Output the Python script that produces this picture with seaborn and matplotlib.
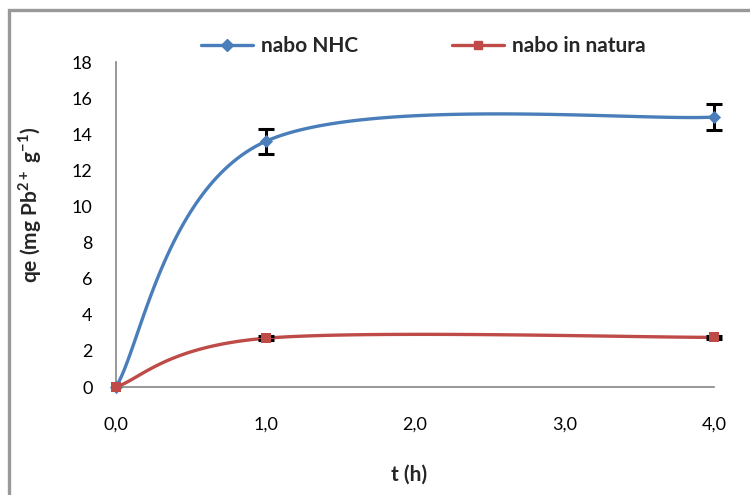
import numpy as np
import pandas as pd
import matplotlib
matplotlib.use("Agg")
import matplotlib.pyplot as plt
import seaborn as sns
from matplotlib.patches import Rectangle
from matplotlib.lines import Line2D

# ---- data ----
t_hours = [0.0, 1.0, 4.0]
qe_nhc = [0.0, 13.6, 14.95]
err_nhc = [0.0, 0.68, 0.72]
qe_natura = [0.0, 2.7, 2.75]
err_natura = [0.0, 0.1, 0.1]
series_names = ["nabo NHC", "nabo in natura"]
x_tick_values = [0, 1, 2, 3, 4]
x_tick_labels = ["0,0", "1,0", "2,0", "3,0", "4,0"]
y_tick_values = list(range(0, 19, 2))

sns.set_theme(style="white")
plt.rcParams["font.family"] = ["Lato", "DejaVu Sans"]
plt.rcParams["mathtext.fontset"] = "custom"
plt.rcParams["mathtext.rm"] = "Lato"
plt.rcParams["mathtext.bf"] = "Lato:bold"

BLUE = "#4A7EBB"
RED = "#BE4B48"
SPINE = "#868686"


def excel_smooth(xs, ys, n=60):
    """Excel-style Bezier smoothing through the given points."""
    P = np.column_stack([xs, ys]).astype(float)
    m = len(P)
    out = []
    for i in range(m - 1):
        p0 = P[i - 1] if i > 0 else P[i]
        p1 = P[i]
        p2 = P[i + 1]
        p3 = P[i + 2] if i + 2 < m else P[i + 1]
        c1 = p1 + (p2 - p0) / 6.0
        c2 = p2 - (p3 - p1) / 6.0
        tt = np.linspace(0, 1, n)[:, None]
        seg = ((1 - tt) ** 3) * p1 + 3 * ((1 - tt) ** 2) * tt * c1 + 3 * (1 - tt) * tt ** 2 * c2 + tt ** 3 * p2
        out.append(seg if i == 0 else seg[1:])
    s = np.vstack(out)
    return s[:, 0], s[:, 1]


fig = plt.figure(figsize=(7.5, 4.95), dpi=100)
ax = fig.add_axes([116 / 750, 1 - 387 / 495, (714 - 116) / 750, (387 - 62) / 495])

frames = []
for name, ys in zip(series_names, [qe_nhc, qe_natura]):
    sx, sy = excel_smooth(t_hours, ys)
    frames.append(pd.DataFrame({"t": sx, "qe": sy, "serie": name}))
curves = pd.concat(frames, ignore_index=True)

sns.lineplot(data=curves, x="t", y="qe", hue="serie", palette=[BLUE, RED],
             sort=False, estimator=None, units="serie", lw=2.4, ax=ax, legend=False)

# error bars
ax.errorbar(t_hours[1:], qe_nhc[1:], yerr=err_nhc[1:], fmt="none", ecolor="black",
            elinewidth=2.2, capsize=6, capthick=2.2, zorder=4, clip_on=False)
ax.errorbar(t_hours[1:], qe_natura[1:], yerr=err_natura[1:], fmt="none", ecolor="black",
            elinewidth=2.2, capsize=6, capthick=2.2, zorder=4, clip_on=False)

# markers
pts_nhc = pd.DataFrame({"t": t_hours, "qe": qe_nhc})
pts_nat = pd.DataFrame({"t": t_hours, "qe": qe_natura})
sns.scatterplot(data=pts_nhc, x="t", y="qe", marker="D", s=45,
                color=BLUE, edgecolor=BLUE, linewidth=0, ax=ax, zorder=5, clip_on=False, legend=False)
sns.scatterplot(data=pts_nat, x="t", y="qe", marker="s", s=45,
                color=RED, edgecolor=RED, linewidth=0, ax=ax, zorder=5, clip_on=False, legend=False)

ax.set_xlim(0, 4)
ax.set_ylim(0, 18)
ax.set_xticks(x_tick_values)
ax.set_xticklabels(x_tick_labels)
ax.set_yticks(y_tick_values)
ax.set_yticklabels([str(v) for v in y_tick_values])

for side in ["top", "right"]:
    ax.spines[side].set_visible(False)
for side in ["left", "bottom"]:
    ax.spines[side].set_color(SPINE)
    ax.spines[side].set_linewidth(1.2)

ax.tick_params(axis="both", which="major", direction="out", length=6, width=1.2,
               color=SPINE, labelsize=13, labelcolor="black")
ax.tick_params(axis="y", pad=11)
ax.tick_params(axis="x", pad=15)

ax.set_xlabel("t (h)", fontsize=15, fontweight="bold")
ax.set_ylabel(r"qe (mg Pb$^{\mathbf{2+}}$ g$^{\mathbf{-1}}$)", fontsize=15, fontweight="bold")
ax.xaxis.set_label_coords(0.49, -0.238)
ax.yaxis.set_label_coords(-0.12, 0.56)

# legend
handles = [Line2D([], [], color=BLUE, lw=2.4, marker="D", markersize=6.5),
           Line2D([], [], color=RED, lw=2.4, marker="s", markersize=6)]
leg = fig.legend(handles, series_names, loc="center", bbox_to_anchor=(423.5 / 750, 1 - 46 / 495),
                 ncol=2, frameon=False, handlelength=2.5, handletextpad=0.38,
                 columnspacing=4.5, prop={"family": "Lato", "weight": "bold", "size": 15})

# outer gray frame (chart area border)
fig.patches.append(Rectangle((9 / 750, -0.1), 1.2, (1 - 10 / 495) + 0.1, transform=fig.transFigure,
                             fill=False, edgecolor="#999999", linewidth=2.4, zorder=0))

fig.savefig("out.png", dpi=100)
